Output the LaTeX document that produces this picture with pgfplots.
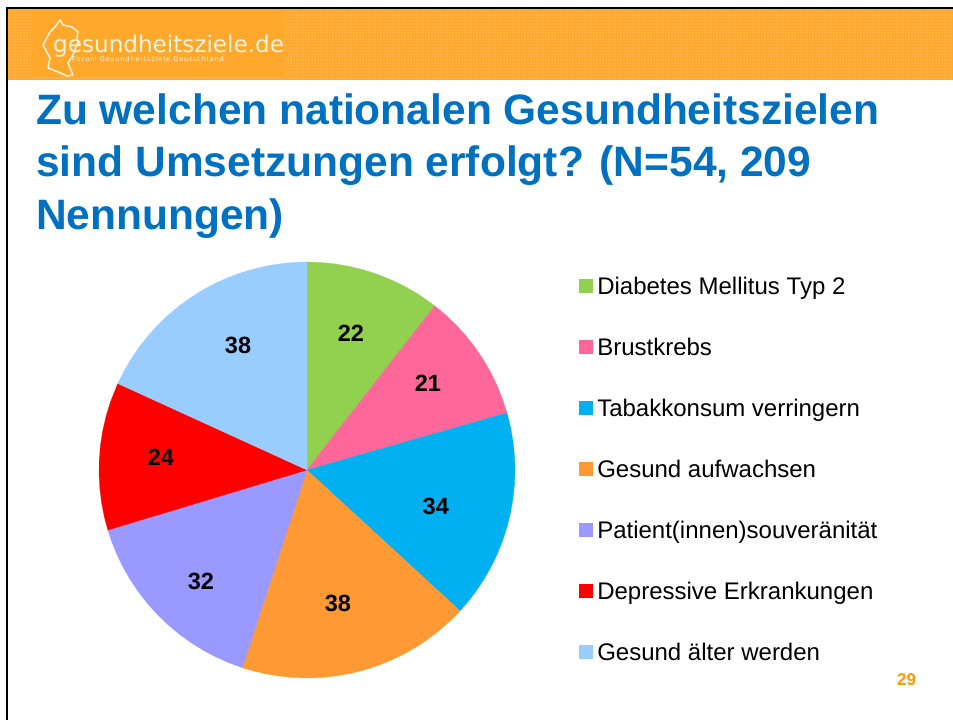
\documentclass[border=0pt]{standalone}
\usepackage{fontspec}
\setmainfont{Liberation Sans}
\newfontfamily\logofont{DejaVu Sans}
\newfontfamily\logosmall[LetterSpace=14]{DejaVu Sans}
\usepackage{pgfplots}
\pgfplotsset{compat=1.18}
\usepgfplotslibrary{polar}
\usetikzlibrary{patterns.meta}
\definecolor{hdr}{HTML}{FFA82C}
\definecolor{hdrdot}{HTML}{FFD08A}
\definecolor{titleblue}{HTML}{0070C0}
\definecolor{logotxt}{HTML}{FFF3DC}
\definecolor{pagenr}{HTML}{FF9900}
\definecolor{cA}{HTML}{92D050}
\definecolor{cB}{HTML}{FF6699}
\definecolor{cC}{HTML}{00B0F0}
\definecolor{cD}{HTML}{FF9933}
\definecolor{cE}{HTML}{9999FF}
\definecolor{cF}{HTML}{FF0000}
\definecolor{cG}{HTML}{99CCFF}
\begin{document}
\begin{tikzpicture}
\path[use as bounding box,fill=white] (0,0) rectangle (953pt,720pt);
\begin{scope}[shift={(0,720pt)},x=1pt,y=-1pt]
  % header band
  \fill[hdr] (8,9) rectangle (953,80);
  \fill[pattern={Dots[distance=3pt,radius=0.7pt]},pattern color=hdrdot] (8,9) rectangle (31,80);
  \fill[pattern={Dots[distance=3pt,radius=0.7pt]},pattern color=hdrdot] (284,9) rectangle (953,80);
  \fill[pattern={Dots[distance=3pt,radius=0.7pt]},pattern color=hdrdot] (31,77) rectangle (284,80);
  \draw[black,line width=2.4pt] (953,8) -- (7,8) -- (7,720);
  % logo
  \draw[logotxt,line width=1.5pt,line join=round] (60,20) -- (63,25) -- (72,27) -- (78,32) -- (77,37) -- (78,42)
    -- (72,57) -- (68,63) -- (73,75) -- (67,76) -- (58,72) -- (48,68) -- (50,58) -- (43,45) -- (50,32) -- (55,27) -- cycle;
  \node[anchor=base west,inner sep=0,text=logotxt] at (53,53) {\logofont\fontsize{23.1}{26}\selectfont gesundheitsziele.de};
  \node[anchor=base west,inner sep=0,text=logotxt] at (72,62) {\logosmall\fontsize{6.6}{8}\selectfont Forum Gesundheitsziele Deutschland};
  % title
  \node[anchor=base west,inner sep=0,text=titleblue] at (36,125) {\fontsize{42.5}{46}\bfseries\selectfont Zu welchen nationalen Gesundheitszielen};
  \node[anchor=base west,inner sep=0,text=titleblue] at (36,177) {\fontsize{42.5}{46}\bfseries\selectfont sind Umsetzungen erfolgt? (N=54, 209};
  \node[anchor=base west,inner sep=0,text=titleblue] at (36,230) {\fontsize{42.5}{46}\bfseries\selectfont Nennungen)};
  \node[anchor=base west,inner sep=0,text=pagenr] at (897,686) {\fontsize{17}{20}\bfseries\selectfont 29};
\end{scope}
\begin{polaraxis}[
  at={(307pt,250pt)},anchor=center,
  scale only axis,width=416pt,height=416pt,
  hide axis,clip=false,
  xmin=0,xmax=360,ymin=0,ymax=1,
  legend cell align=left,
  legend image code/.code={\fill[#1] (0pt,-3.5pt) rectangle (13pt,9.5pt);\path[draw=none,fill=none] (0pt,0pt) -- (18pt,0pt);},
  legend style={at={(1.1538,0.9616)},anchor=north west,draw=none,fill=none,inner sep=0pt,
    font=\fontsize{24}{28}\selectfont,row sep=40pt,
    nodes={inner sep=0pt,text height=16pt,text depth=5pt}},
]
\addplot[fill=cA,draw=cA,line width=0.2pt] coordinates {(0,0)(90,1)(86,1)(82,1)(78,1)(74,1)(70,1)(66,1)(62,1)(58,1)(54,1)(52.1,1)} -- cycle;
\addlegendentry{Diabetes Mellitus Typ 2}
\addplot[fill=cB,draw=cB,line width=0.2pt] coordinates {(0,0)(52.1,1)(48,1)(44,1)(40,1)(36,1)(32,1)(28,1)(24,1)(20,1)(15.93,1)} -- cycle;
\addlegendentry{Brustkrebs}
\addplot[fill=cC,draw=cC,line width=0.2pt] coordinates {(0,0)(15.93,1)(12,1)(8,1)(4,1)(0,1)(-4,1)(-8,1)(-12,1)(-16,1)(-20,1)(-24,1)(-28,1)(-32,1)(-36,1)(-40,1)(-42.63,1)} -- cycle;
\addlegendentry{Tabakkonsum verringern}
\addplot[fill=cD,draw=cD,line width=0.2pt] coordinates {(0,0)(-42.63,1)(-46,1)(-50,1)(-54,1)(-58,1)(-62,1)(-66,1)(-70,1)(-74,1)(-78,1)(-82,1)(-86,1)(-90,1)(-94,1)(-98,1)(-102,1)(-106,1)(-108.09,1)} -- cycle;
\addlegendentry{Gesund aufwachsen}
\addplot[fill=cE,draw=cE,line width=0.2pt] coordinates {(0,0)(-108.09,1)(-112,1)(-116,1)(-120,1)(-124,1)(-128,1)(-132,1)(-136,1)(-140,1)(-144,1)(-148,1)(-152,1)(-156,1)(-160,1)(-163.2,1)} -- cycle;
\addlegendentry{Patient(innen)souveränität}
\addplot[fill=cF,draw=cF,line width=0.2pt] coordinates {(0,0)(-163.2,1)(-167,1)(-171,1)(-175,1)(-179,1)(-183,1)(-187,1)(-191,1)(-195,1)(-199,1)(-204.55,1)} -- cycle;
\addlegendentry{Depressive Erkrankungen}
\addplot[fill=cG,draw=cG,line width=0.2pt] coordinates {(0,0)(-204.55,1)(-208,1)(-212,1)(-216,1)(-220,1)(-224,1)(-228,1)(-232,1)(-236,1)(-240,1)(-244,1)(-248,1)(-252,1)(-256,1)(-260,1)(-264,1)(-268,1)(-270,1)} -- cycle;
\addlegendentry{Gesund älter werden}
\addplot[draw=none,mark=none,forget plot,point meta=explicit symbolic,nodes near coords,
  nodes near coords style={font=\fontsize{23.5}{26}\bfseries\selectfont,anchor=center,inner sep=0pt,text=black}]
  coordinates {(72.2,0.69)[22] (35.7,0.716)[21] (-15.6,0.643)[34] (-76.9,0.657)[38] (-133.7,0.738)[32] (174.9,0.705)[24] (118.9,0.686)[38]};
\end{polaraxis}
\end{tikzpicture}
\end{document}
